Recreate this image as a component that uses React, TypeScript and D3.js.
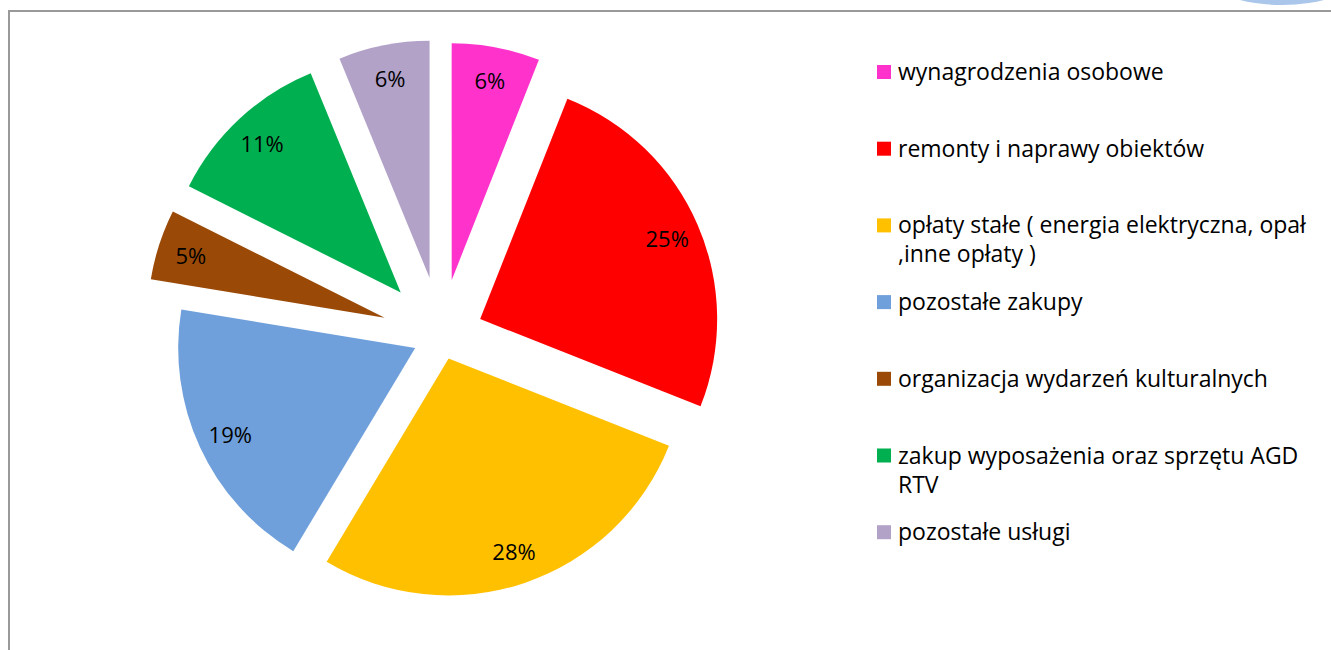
import React, { useEffect, useRef } from "react";
import * as d3 from "d3";

// categories and shares (percent)
const categories = [
  "wynagrodzenia osobowe",
  "remonty i naprawy obiektów",
  "opłaty stałe ( energia elektryczna, opał ,inne opłaty )",
  "pozostałe zakupy",
  "organizacja wydarzeń kulturalnych",
  "zakup wyposażenia oraz sprzętu AGD RTV",
  "pozostałe usługi",
];
const shares = [6.0, 25.0, 27.6, 19.0, 4.8, 11.4, 6.2];
// how far each slice is pulled out, in % of the radius
const explode = [24, 18, 10, 12, 25, 25, 25];
const colors = ["#FF33CC", "#FF0000", "#FFC000", "#6FA0DB", "#9A4A06", "#00B050", "#B2A2C8"];

const W = 1331, H = 650;
const FONT = "'Open Sans', sans-serif";

export default function App() {
  const ref = useRef<SVGSVGElement>(null);

  useEffect(() => {
    const svg = d3.select(ref.current);
    svg.selectAll("*").remove();

    // faint decoration top right + frame
    svg.append("ellipse")
      .attr("cx", 1282).attr("cy", -20).attr("rx", 70).attr("ry", 25)
      .attr("fill", "#AAC6EA");
    svg.append("path")
      .attr("d", `M9,${H} L9,11 L${W},11`)
      .attr("fill", "none").attr("stroke", "#999").attr("stroke-width", 2);

    const cx = 441, cy = 336, radius = 237;
    const total = d3.sum(shares);

    const pie = d3.pie<number>().sort(null).value(d => d);
    const arc = d3.arc<d3.PieArcDatum<number>>().innerRadius(0).outerRadius(radius);

    const g = svg.append("g").attr("transform", `translate(${cx},${cy})`);

    const slices = g.selectAll("g.slice")
      .data(pie(shares))
      .enter()
      .append("g")
      .attr("class", "slice")
      .attr("transform", (d, i) => {
        const mid = (d.startAngle + d.endAngle) / 2;
        const off = (explode[i] / 100) * radius;
        return `translate(${Math.sin(mid) * off},${-Math.cos(mid) * off})`;
      });

    slices.append("path")
      .attr("d", arc)
      .attr("fill", (d, i) => colors[i]);

    // labels near the outer end of each slice
    slices.append("text")
      .attr("x", d => Math.sin((d.startAngle + d.endAngle) / 2) * radius * 0.86)
      .attr("y", d => -Math.cos((d.startAngle + d.endAngle) / 2) * radius * 0.86)
      .attr("text-anchor", "middle")
      .attr("dominant-baseline", "central")
      .attr("font-family", FONT)
      .attr("font-size", 22)
      .attr("fill", "#000")
      .text(d => Math.round((d.data / total) * 100) + "%");

    // legend
    const legend = svg.append("g");
    const maxW = 425;
    categories.forEach((name, i) => {
      const y = 72 + i * 76.7;
      legend.append("rect")
        .attr("x", 877).attr("y", y - 7).attr("width", 14).attr("height", 14)
        .attr("fill", colors[i]);
      const text = legend.append("text")
        .attr("x", 898).attr("y", y + 8)
        .attr("font-family", FONT)
        .attr("font-size", 23)
        .attr("fill", "#000");
      // simple word wrap
      const words = name.split(" ");
      let line: string[] = [];
      let tspan = text.append("tspan").attr("x", 898).attr("dy", 0);
      words.forEach(w => {
        line.push(w);
        tspan.text(line.join(" "));
        if ((tspan.node() as SVGTSpanElement).getComputedTextLength() > maxW && line.length > 1) {
          line.pop();
          tspan.text(line.join(" "));
          line = [w];
          tspan = text.append("tspan").attr("x", 898).attr("dy", 29).text(w);
        }
      });
    });
  }, []);

  return (
    <svg
      ref={ref}
      width={W}
      height={H}
      style={{ position: "absolute", left: 0, top: 0, background: "#fff" }}
    />
  );
}
